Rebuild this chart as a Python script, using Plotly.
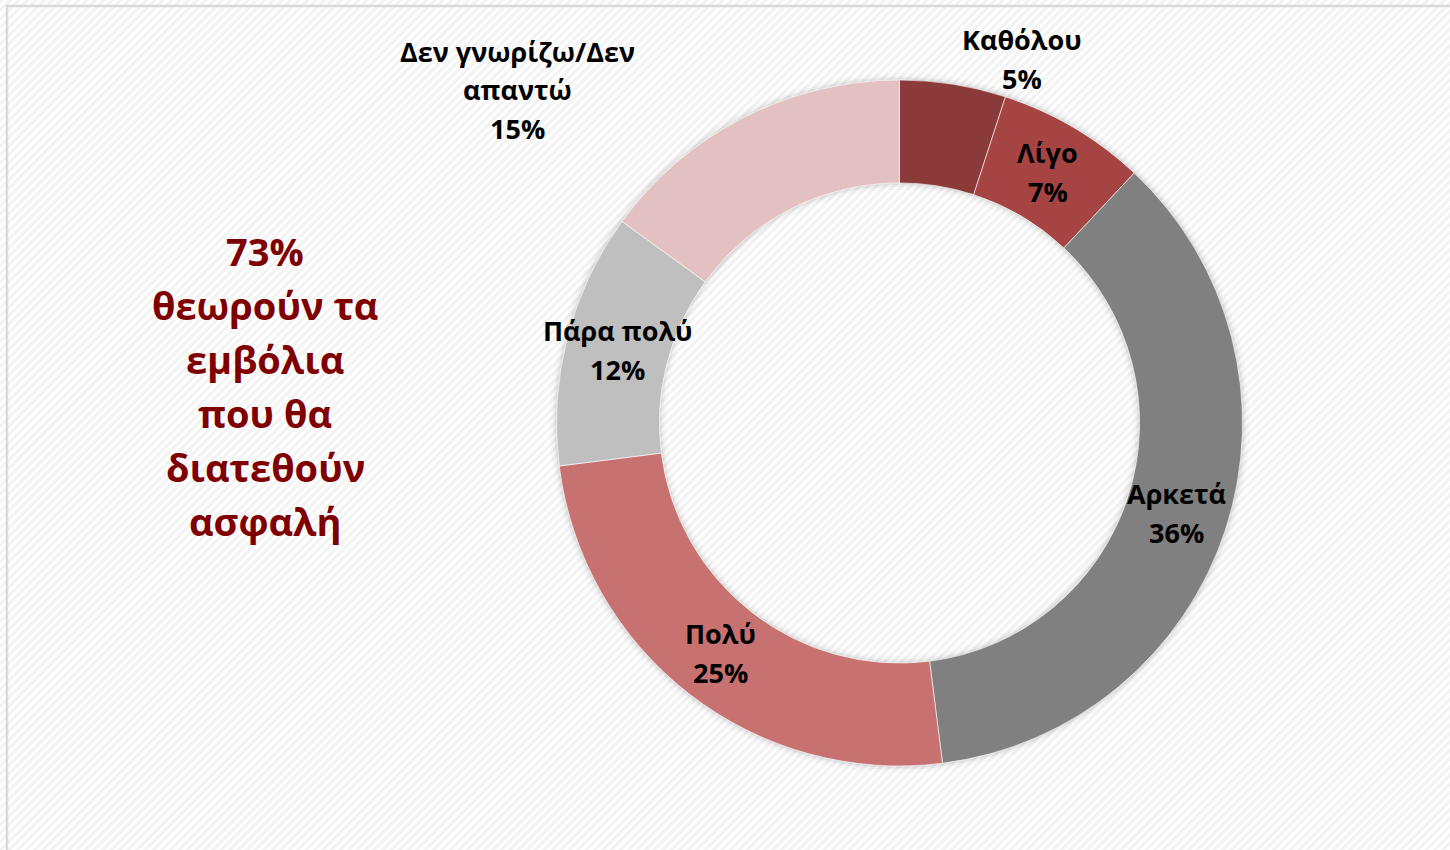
import base64, math
import plotly.graph_objects as go

categories = ["Καθόλου", "Λίγο", "Αρκετά", "Πολύ", "Πάρα πολύ", "Δεν γνωρίζω/Δεν απαντώ"]
label_lines = [["Καθόλου"], ["Λίγο"], ["Αρκετά"], ["Πολύ"], ["Πάρα πολύ"], ["Δεν γνωρίζω/Δεν", "απαντώ"]]
values = [5, 7, 36, 25, 12, 15]
colors = ["#8B3A3A", "#A64444", "#808080", "#C87171", "#BFBFBF", "#E3C1C2"]
side_text = ["73%", "θεωρούν τα", "εμβόλια", "που θα", "διατεθούν", "ασφαλή"]

W, H = 1450, 850
cx, cy, R = 899.5, 423.0, 343.0
hole = 0.70
FONT = "Open Sans"

# faint diagonal hatch background as svg
svg = (f'<svg xmlns="http://www.w3.org/2000/svg" width="{W}" height="{H}">'
       '<defs><pattern id="p" width="6" height="6" patternUnits="userSpaceOnUse" '
       'patternTransform="rotate(45)"><rect width="6" height="6" fill="#ffffff"/>'
       '<rect width="3" height="6" fill="#f3f3f3"/></pattern></defs>'
       f'<rect width="{W}" height="{H}" fill="url(#p)"/></svg>')
src = "data:image/svg+xml;base64," + base64.b64encode(svg.encode()).decode()

fig = go.Figure()

# soft shadow rings behind the donut
for k, a in [(7, 0.02), (4, 0.035), (2, 0.05)]:
    r = R + k
    fig.add_trace(go.Pie(
        values=[1], marker=dict(colors=[f"rgba(0,0,0,{a})"], line=dict(width=0)),
        hole=(R * hole - k) / r,
        domain=dict(x=[(cx - r) / W, (cx + r) / W], y=[(H - cy - r) / H, (H - cy + r) / H]),
        textinfo="none", hoverinfo="skip", showlegend=False, sort=False))

fig.add_trace(go.Pie(
    labels=categories, values=values, sort=False, direction="clockwise", rotation=0,
    hole=hole, marker=dict(colors=colors, line=dict(color="rgba(255,255,255,0.6)", width=1)),
    textinfo="none", showlegend=False,
    domain=dict(x=[(cx - R) / W, (cx + R) / W], y=[(H - cy - R) / H, (H - cy + R) / H]),
))

# labels: inside ones at mid-angle of ring, outside ones offset
total = sum(values)
cum = 0
rmid = R * (1 + hole) / 2
label_pos = {}
for i, v in enumerate(values):
    mid = (cum + v / 2) / total * 2 * math.pi
    cum += v
    label_pos[i] = (cx + rmid * math.sin(mid), cy - rmid * math.cos(mid))
# outside labels (placed as in reference)
label_pos[0] = (1022, 59)
label_pos[5] = (517, 90)

LS = 39  # line spacing px
for i, lines in enumerate(label_lines):
    x, y = label_pos[i]
    all_lines = lines + [f"{values[i]}%"]
    n = len(all_lines)
    for j, t in enumerate(all_lines):
        yy = y + (j - (n - 1) / 2) * LS
        fig.add_annotation(
            x=x / W, y=1 - yy / H, xref="paper", yref="paper", xanchor="center", yanchor="middle",
            text=f"<b>{t}</b>", showarrow=False,
            font=dict(family=FONT, size=27, color="#000000"))

for j, t in enumerate(side_text):
    yy = 251 + j * 54
    fig.add_annotation(
        x=265 / W, y=1 - yy / H, xref="paper", yref="paper", xanchor="center", yanchor="middle",
        text=f"<b>{t}</b>", showarrow=False,
        font=dict(family=FONT, size=38, color="#7F0000"))

fig.update_layout(
    width=W, height=H, margin=dict(l=0, r=0, t=0, b=0),
    paper_bgcolor="#ffffff", plot_bgcolor="#ffffff",
    images=[dict(source=src, xref="paper", yref="paper", x=0, y=1, sizex=1, sizey=1,
                 xanchor="left", yanchor="top", sizing="stretch", layer="below")],
    shapes=[dict(type="rect", xref="paper", yref="paper", x0=7 / W, x1=1 + 10 / W,
                 y0=-10 / H, y1=1 - 6 / H, line=dict(color="#D9D9D9", width=2.5))],
)

fig.write_html("out.html", config={"displayModeBar": False},
               post_script="document.body.style.margin='0px';")
